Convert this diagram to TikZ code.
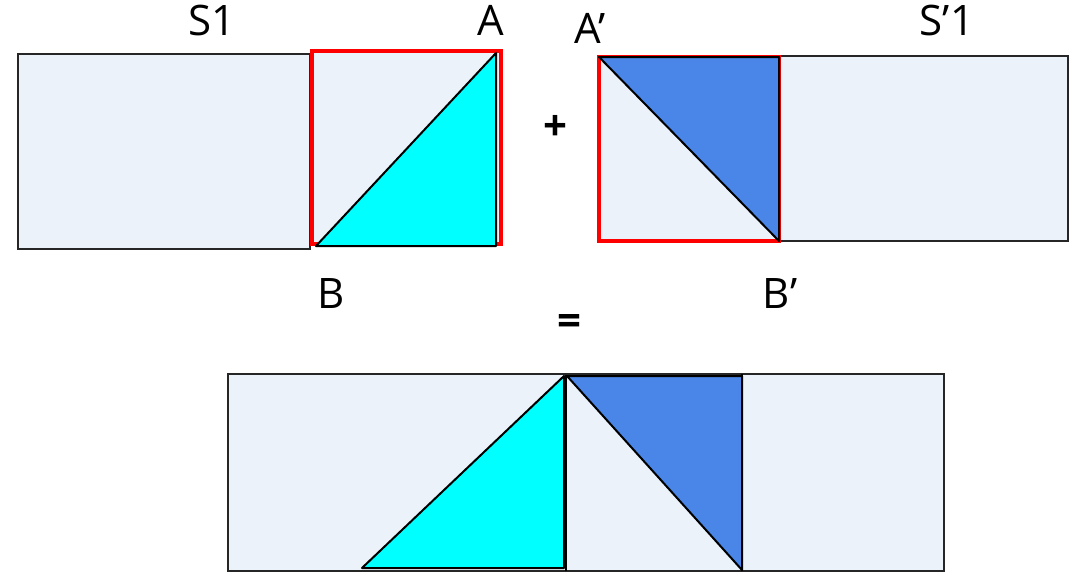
\documentclass[tikz,border=0pt]{standalone}
\usepackage{fontspec}
\setmainfont{Open Sans}
\definecolor{paleblue}{RGB}{235,242,250}
\definecolor{cornblue}{RGB}{74,134,232}
\definecolor{aqua}{RGB}{0,255,255}
\tikzset{
	plate/.style={draw=black!85, line width=1pt, fill=paleblue},
	redsq/.style={draw=red, line width=2pt, fill=paleblue},
	tri/.style={draw=black, line width=1pt, line join=round},
	lbl/.style={inner sep=0pt, font=\fontsize{21}{25}\selectfont},
	sign/.style={inner sep=0pt, font=\bfseries\fontsize{21}{25}\selectfont}
}
\begin{document}
\begin{tikzpicture}[x=0.5pt,y=-0.5pt]
	\useasboundingbox (0,0) rectangle (1073,573);
	
	% S1 with its square
	\draw[plate](18,54) rectangle (310,249);
	\draw[redsq](312,51) rectangle (501,244);
	\draw[tri, fill=aqua](316,246)--(496,53)--(496,246)--cycle;
	
	% S'1 with its square
	\draw[plate](779,56) rectangle (1068,241);
	\draw[redsq](599,57) rectangle (779,241);
	\draw[tri, fill=cornblue](599,57)--(779,57)--(779,241)--cycle;
	\draw[tri](779,56)--(779,241);
	
	% the sum
	\draw[plate](228,374) rectangle (944,571);
	\draw[tri, fill=aqua](362,568)--(564,376)--(564,568)--cycle;
	\draw[tri](566,375)--(566,571);
	\draw[tri, fill=cornblue](567,376)--(742,376)--(742,570)--cycle;
	\draw[tri](742,374)--(742,571);
	
	\node[lbl] (s1) at (212,20) {S1};
	\node[lbl] (a) at (491,20) {A};
	\node[lbl] (b) at (331,294) {B};
	\node[lbl] (a2) at (590,28) {A’};
	\node[lbl] (s2) at (947,20) {S’1};
	\node[lbl] (b2) at (780,294) {B’};
	\node[sign] (plus) at (555,128) {+};
	\node[sign] (eq) at (569,325) {=};
\end{tikzpicture}
\end{document}
